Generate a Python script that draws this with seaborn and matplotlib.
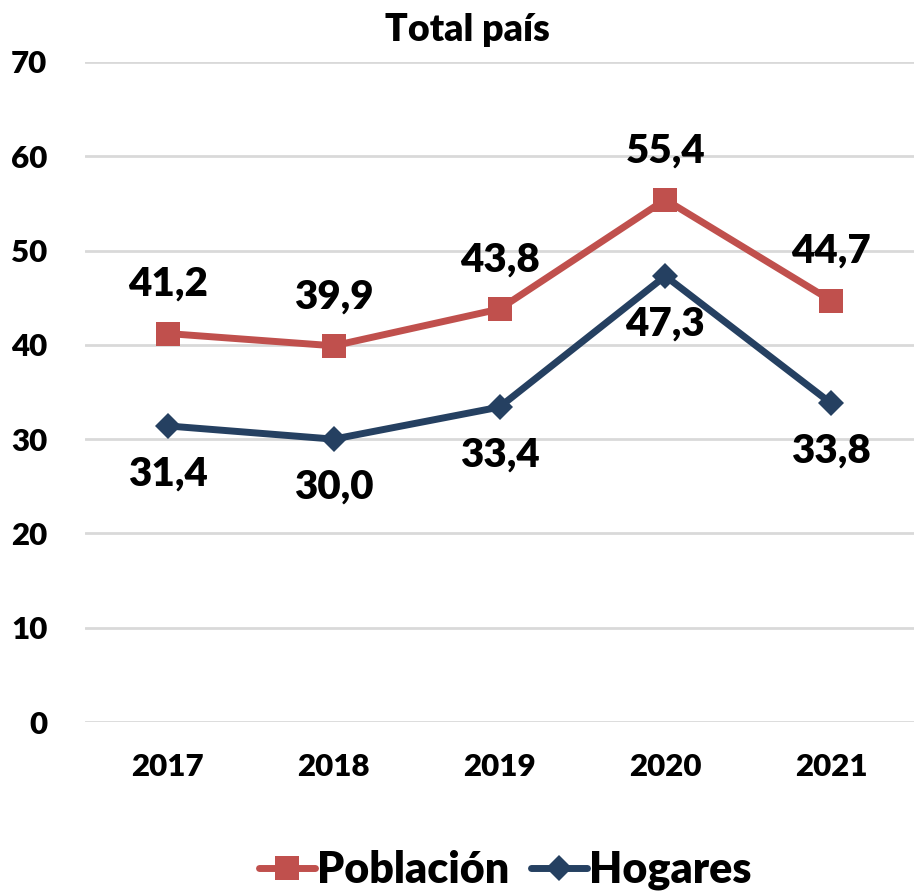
import pandas as pd
import matplotlib.pyplot as plt
import seaborn as sns

# datos
years = ['2017', '2018', '2019', '2020', '2021']
poblacion = [41.2, 39.9, 43.8, 55.4, 44.7]
hogares = [31.4, 30.0, 33.4, 47.3, 33.8]

df = pd.DataFrame({
    'year': years * 2,
    'valor': poblacion + hogares,
    'serie': ['Población'] * 5 + ['Hogares'] * 5,
})

sns.set_style('white')
plt.rcParams['font.family'] = ['Lato', 'DejaVu Sans']
plt.rcParams['font.weight'] = 'heavy'
plt.rcParams['text.color'] = 'black'
plt.rcParams['xtick.color'] = 'black'
plt.rcParams['ytick.color'] = 'black'

fig = plt.figure(figsize=(9.14, 8.96), dpi=100)
ax = fig.add_axes([85 / 914, 1 - 722 / 896, 1 - 85 / 914, (722 - 62) / 896])

colors = {'Población': '#C0504D', 'Hogares': '#254061'}
sns.lineplot(data=df, x='year', y='valor', hue='serie', style='serie',
             markers={'Población': 's', 'Hogares': 'D'}, dashes=False,
             palette=colors, linewidth=5, markersize=17, markeredgewidth=0,
             ax=ax, sort=False)
for line in ax.lines:
    if line.get_marker() == 'D':
        line.set_markersize(13)

ax.set_ylim(0, 70)
ax.set_xlim(-0.5, 4.5)
ax.set_yticks(range(0, 71, 10))
ax.yaxis.grid(True, color='#D9D9D9', linewidth=2)
for s in ax.spines.values():
    s.set_visible(False)
ax.tick_params(axis='both', length=0, labelsize=22.5)
ax.tick_params(axis='y', pad=27)
ax.tick_params(axis='x', pad=22)
for t in ax.get_xticklabels() + ax.get_yticklabels():
    t.set_fontweight('heavy')
ax.set_xlabel('')
ax.set_ylabel('')

def fmt(v):
    return f'{v:.1f}'.replace('.', ',')

for i, v in enumerate(poblacion):
    ax.annotate(fmt(v), (i, v), xytext=(0, 22), textcoords='offset points',
                ha='center', va='bottom', fontsize=29, fontweight='heavy')
for i, v in enumerate(hogares):
    ax.annotate(fmt(v), (i, v), xytext=(0, -21), textcoords='offset points',
                ha='center', va='top', fontsize=29, fontweight='heavy')

fig.text(467 / 914, 1 - 30 / 896, 'Total país', ha='center', va='center',
         fontsize=27, fontweight='heavy')

ax.legend_.remove()
handles, labels = ax.get_legend_handles_labels()
fig.legend(handles, labels, loc='center', bbox_to_anchor=(0.553, 1 - 870 / 896),
           ncol=2, frameon=False, prop={'size': 31, 'weight': 'heavy'},
           handlelength=1.3, handletextpad=0.05, columnspacing=0.5)

fig.savefig('out.png', dpi=100)
